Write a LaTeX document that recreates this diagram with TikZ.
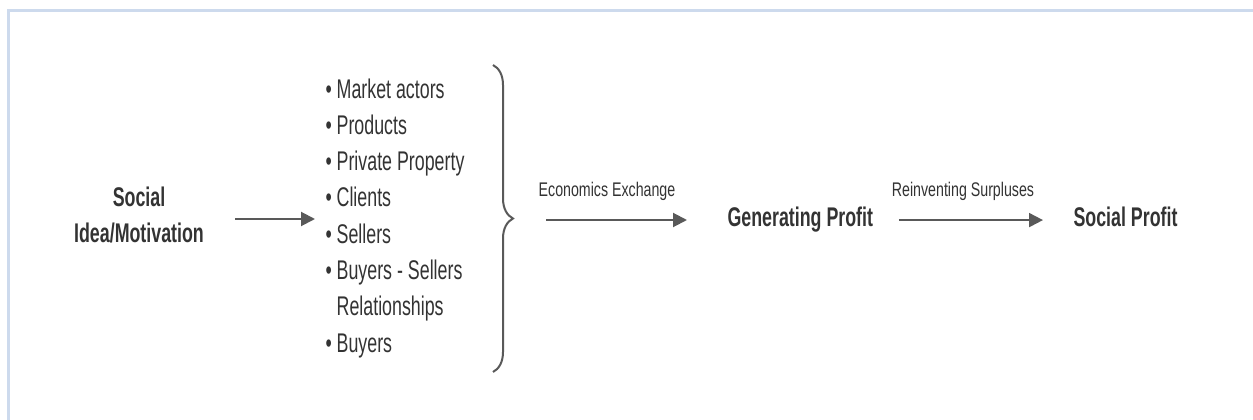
\documentclass[tikz,border=0pt]{standalone}
\usepackage{fontspec}
\setmainfont[FakeStretch=0.66]{Liberation Sans}
\newfontfamily\edgefont[FakeStretch=0.72]{Liberation Sans}
\usetikzlibrary{arrows.meta,decorations.pathreplacing}

\definecolor{frameblue}{RGB}{205,218,237}
\definecolor{textgrey}{RGB}{51,51,51}
\definecolor{arrowgrey}{RGB}{89,89,89}

\tikzset{every picture/.style={line width=0.75pt}}
\tikzset{
	title/.style={font=\fontsize{20.25}{27}\selectfont\bfseries, text=textgrey, inner sep=0pt},
	items/.style={font=\fontsize{20.25}{27.2}\selectfont, text=textgrey, inner sep=0pt, align=left},
	edgelabel/.style={font=\edgefont\fontsize{14.8}{18}\selectfont, text=textgrey, inner sep=0pt},
	flow/.style={draw=arrowgrey, line width=1.5pt, -{Triangle[length=10.5pt,width=10.5pt]}},
}

\begin{document}
\begin{tikzpicture}[x=0.75pt,y=0.75pt,yscale=-1,xscale=1]
	\useasboundingbox (0,0) rectangle (1253,420);

	%Frame
	\draw [frameblue, line width=2.25pt] (8,430) -- (8,11) -- (1265,11) ;

	% Text Node (base = last line)
	\node [title, align=center, anchor=base] (idea) at (139,243) {Social\\Idea/Motivation};
	% Text Node (base = last line)
	\node [items, anchor=base west] (items) at (325,352) {\textbullet\ Market actors\\
		\textbullet\ Products\\
		\textbullet\ Private Property\\
		\textbullet\ Clients\\
		\textbullet\ Sellers\\
		\textbullet\ Buyers - Sellers\\
		\phantom{\textbullet\ }Relationships\\
		\textbullet\ Buyers};
	% Text Node
	\node [title, anchor=base west] (gen) at (727,227) {Generating Profit};
	% Text Node
	\node [title, anchor=base west] (social) at (1073,227) {Social Profit};
	% Text Node
	\node [edgelabel, anchor=base] (exlabel) at (607,197) {Economics Exchange};
	% Text Node
	\node [edgelabel, anchor=base] (relabel) at (963,197) {Reinventing Surpluses};

	\coordinate (row) at (0,219);
	\coordinate (bracetop) at (493,65);
	\coordinate (bracebot) at (493,372);
	\coordinate (tip) at (513,220);

	%Brace
	\draw [decorate, decoration={brace, amplitude=15pt}, draw=arrowgrey, line width=1.5pt] (bracetop) -- (bracebot) ;

	%Straight Lines
	\draw [flow, shorten <=23pt, shorten >=7.5pt] (idea.east |- row) -- (items.west |- row) ;
	%Straight Lines
	\draw [flow, shorten <=24.75pt, shorten >=30pt] (tip) -- (tip -| gen.west) ;
	%Straight Lines
	\draw [flow, shorten <=19pt, shorten >=22.5pt] (gen.east) -- (gen.east -| social.west) ;

\end{tikzpicture}
\end{document}
